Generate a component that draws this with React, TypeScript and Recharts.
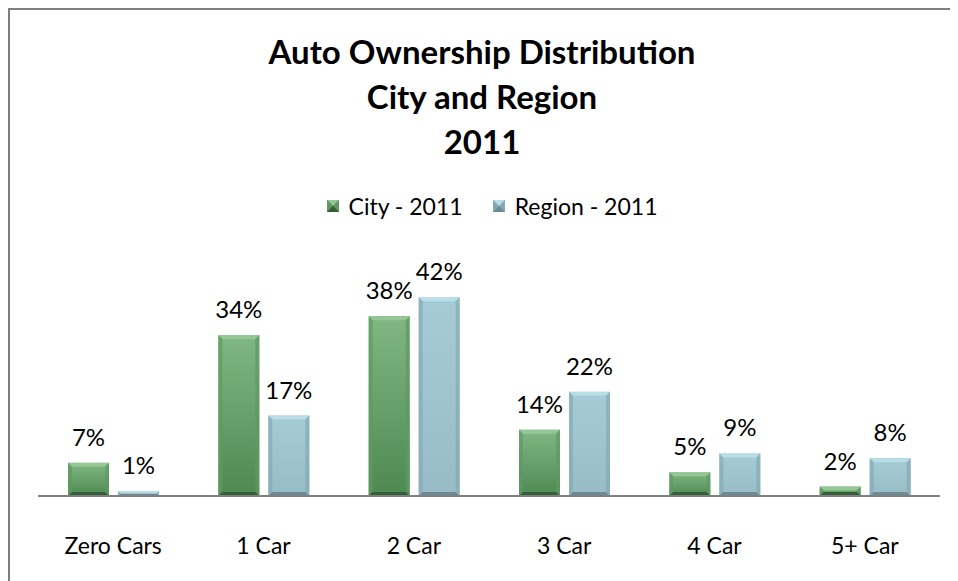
import React from 'react';
import { BarChart, Bar, XAxis, YAxis, LabelList } from 'recharts';

const categories = ['Zero Cars', '1 Car', '2 Car', '3 Car', '4 Car', '5+ Car'];
const cityValues = [7, 34, 38, 14, 5, 2];
const regionValues = [1, 17, 42, 22, 9, 8];
const titleLines = ['Auto Ownership Distribution', 'City and Region', '2011'];
const seriesNames = ['City - 2011', 'Region - 2011'];

const data = categories.map((name, i) => ({
  name,
  city: cityValues[i],
  region: regionValues[i],
}));

const FONT = 'Lato, "Open Sans", sans-serif';

const palettes: Record<string, { top: string; body1: string; body2: string; side: string; bottom: string }> = {
  city: { top: '#94c795', body1: '#80b782', body2: '#4e8952', side: '#5f9963', bottom: '#345e38' },
  region: { top: '#b8dde6', body1: '#a5ccd6', body2: '#97bcc6', side: '#84a9b3', bottom: '#6a8b94' },
};

// beveled bar like the office "angle" bevel
const BevelBar = (props: any) => {
  const { x, y, width, height, dataKey } = props;
  const p = palettes[dataKey as string];
  if (!p || height <= 0) return null;
  const b = Math.min(4, height / 2, width / 2);
  const x2 = x + width;
  const y2 = y + height;
  const gid = `grad-${dataKey}`;
  return (
    <g>
      <rect x={x + 1} y={y2 - 1} width={width} height={5} fill="#000" opacity={0.06} />
      <rect x={x} y={y} width={width} height={height} fill={`url(#${gid})`} />
      <polygon points={`${x},${y} ${x2},${y} ${x2 - b},${y + b} ${x + b},${y + b}`} fill={p.top} />
      <polygon points={`${x},${y} ${x + b},${y + b} ${x + b},${y2 - b} ${x},${y2}`} fill={p.side} opacity={0.7} />
      <polygon points={`${x2},${y} ${x2 - b},${y + b} ${x2 - b},${y2 - b} ${x2},${y2}`} fill={p.side} opacity={0.7} />
      <polygon points={`${x},${y2} ${x + b},${y2 - b} ${x2 - b},${y2 - b} ${x2},${y2}`} fill={p.bottom} />
    </g>
  );
};

const CategoryTick = ({ x, y, payload }: any) => (
  <text x={x} y={y + 44} textAnchor="middle" dominantBaseline="middle" fontFamily={FONT} fontSize={23} fill="#000">
    {payload.value}
  </text>
);

const LegendIcon = ({ kind }: { kind: string }) => {
  const p = palettes[kind];
  return (
    <svg width={12} height={12} style={{ marginRight: 10, verticalAlign: 'middle' }}>
      <rect x={0} y={0} width={12} height={12} fill={p.body2} />
      <polygon points="0,0 12,0 6,6" fill={p.top} />
      <polygon points="0,0 6,6 0,12" fill={p.side} />
      <polygon points="12,0 6,6 12,12" fill={p.side} />
      <polygon points="0,12 6,6 12,12" fill={p.bottom} />
    </svg>
  );
};

export default function App() {
  return (
    <div
      style={{
        position: 'relative',
        width: 948,
        height: 571,
        borderTop: '2px solid #7f7f7f',
        borderLeft: '2px solid #7f7f7f',
        background: '#fff',
      }}
    >
      <div
        style={{
          position: 'absolute',
          left: 0,
          width: 944,
          top: 19,
          textAlign: 'center',
          fontFamily: FONT,
          fontWeight: 700,
          fontSize: 33,
          lineHeight: '45px',
          color: '#000',
        }}
      >
        {titleLines.map(t => (
          <div key={t}>{t}</div>
        ))}
      </div>
      <div
        style={{
          position: 'absolute',
          left: 0,
          width: 964,
          top: 182,
          display: 'flex',
          justifyContent: 'center',
          fontFamily: FONT,
          fontSize: 23,
          color: '#000',
        }}
      >
        {['city', 'region'].map((k, i) => (
          <span key={k} style={{ display: 'flex', alignItems: 'center', marginRight: i === 0 ? 30 : 0 }}>
            <LegendIcon kind={k} />
            {seriesNames[i]}
          </span>
        ))}
      </div>
      <BarChart
        width={948}
        height={571}
        data={data}
        margin={{ top: 273, right: 18, left: 28, bottom: 0 }}
        barSize={41}
        barGap={9}
      >
        <defs>
          <linearGradient id="grad-city" x1="0" y1="0" x2="0" y2="1">
            <stop offset="0%" stopColor={palettes.city.body1} />
            <stop offset="100%" stopColor={palettes.city.body2} />
          </linearGradient>
          <linearGradient id="grad-region" x1="0" y1="0" x2="0" y2="1">
            <stop offset="0%" stopColor={palettes.region.body1} />
            <stop offset="100%" stopColor={palettes.region.body2} />
          </linearGradient>
        </defs>
        <XAxis
          dataKey="name"
          height={85}
          axisLine={{ stroke: '#808080', strokeWidth: 2 }}
          tickLine={false}
          tick={<CategoryTick />}
          interval={0}
        />
        <YAxis hide domain={[0, 45]} allowDataOverflow ticks={[0, 15, 30, 45]} />
        <Bar dataKey="city" name={seriesNames[0]} shape={<BevelBar />} isAnimationActive={false}>
          <LabelList
            dataKey="city"
            position="top"
            offset={17}
            formatter={(v: any) => `${v}%`}
            style={{ fontFamily: FONT, fontSize: 24, fill: '#000' }}
          />
        </Bar>
        <Bar dataKey="region" name={seriesNames[1]} shape={<BevelBar />} isAnimationActive={false}>
          <LabelList
            dataKey="region"
            position="top"
            offset={17}
            formatter={(v: any) => `${v}%`}
            style={{ fontFamily: FONT, fontSize: 24, fill: '#000' }}
          />
        </Bar>
      </BarChart>
    </div>
  );
}
